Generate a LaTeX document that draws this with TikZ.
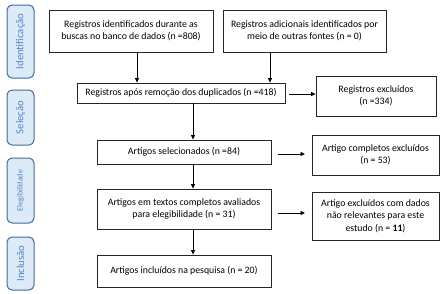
\documentclass[tikz,border=0pt]{standalone}
\usepackage{fontspec}
\setmainfont{Carlito}
\usetikzlibrary{arrows.meta}
\definecolor{sidefill}{HTML}{DDEAF8}
\definecolor{sidedraw}{HTML}{41699A}
\definecolor{sidetext}{HTML}{4F85C4}
\tikzset{
  box/.style={draw=black!85, line width=0.8pt, align=center, inner sep=0pt,
    font=\fontsize{9.8}{12.5}\selectfont},
  side/.style={draw=sidedraw, fill=sidefill, line width=1pt, rounded corners=5pt,
    inner sep=0pt, text=sidetext, rotate=90,
    font=\fontsize{10.7}{12}\selectfont},
  arr/.style={-{Triangle[length=4.5pt,width=4pt]}, line width=0.9pt, black}
}
\begin{document}
\begin{tikzpicture}[x=1pt,y=-1pt]
\useasboundingbox (0,0) rectangle (443,293);
% side labels
\node[side, minimum width=73pt, minimum height=27pt] (s1) at (20.5,41.5) {Identificação};
\node[side, minimum width=55pt, minimum height=27pt] (s2) at (20.5,117.5) {Seleção};
\node[side, minimum width=65pt, minimum height=27pt, font=\fontsize{8}{10}\selectfont] (s3) at (20.5,190.5) {Elegibilidade};
\node[side, minimum width=53pt, minimum height=27pt] (s4) at (20.5,263.5) {Inclusão};
% boxes
\node[box, minimum width=164pt, minimum height=42pt] (b1) at (131,31) {Registros identificados durante as\\buscas no banco de dados (n =808)};
\node[box, minimum width=163pt, minimum height=42pt] (b2) at (304.5,31) {Registros adicionais identificados por\\meio de outras fontes (n = 0)};
\node[box, minimum width=208pt, minimum height=20pt] (b3) at (181,93) {Registros após remoção dos duplicados (n =418)};
\node[box, minimum width=120pt, minimum height=40pt] (b4) at (376,96) {Registros excluídos\\(n =334)};
\node[box, minimum width=174pt, minimum height=24pt] (b5) at (184,152) {Artigos selecionados (n =84)};
\node[box, minimum width=127pt, minimum height=40pt] (b6) at (375.5,155) {Artigo completos excluídos\\(n = 53)};
\node[box, minimum width=174pt, minimum height=40pt] (b7) at (184,209) {Artigos em textos completos avaliados\\para elegibilidade (n = 31)};
\node[box, minimum width=127pt, minimum height=48pt] (b8) at (375.5,216) {Artigo excluídos com dados\\não relevantes para este\\estudo (n = \textbf{11})};
\node[box, minimum width=174pt, minimum height=32pt] (b9) at (184,271) {Artigos incluídos na pesquisa (n = 20)};
% reference x positions
\coordinate (xa) at (137,0);
\coordinate (xb) at (270,0);
\coordinate (xc) at (193,0);
\coordinate (g1) at (289,94);
\coordinate (g2) at (278,154);
\coordinate (g3) at (305,154);
\coordinate (g4) at (278,213);
\coordinate (g5) at (305,213);
% arrows
\draw[arr] (b1.south -| xa) -- (b3.north -| xa);
\draw[arr] (b2.south -| xb) -- (b3.north -| xb);
\draw[arr] (g1) -- (b4.west |- g1);
\draw[arr] (b3.south -| xc) -- (b5.north -| xc);
\draw[arr] (g2) -- (g3);
\draw[arr] (b5.south -| xc) -- (b7.north -| xc);
\draw[arr] (g4) -- (g5);
\draw[arr] (b7.south -| xc) -- (b9.north -| xc);
\end{tikzpicture}
\end{document}
